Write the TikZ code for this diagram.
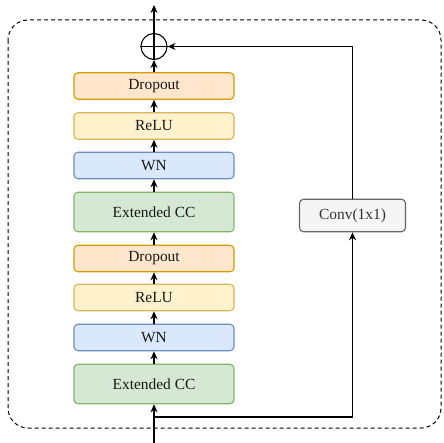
\documentclass[tikz,border=0pt]{standalone}
\usepackage{fontspec}
\setmainfont{Liberation Serif}
\usetikzlibrary{arrows.meta}
\definecolor{dropfill}{HTML}{FFE6CC}\definecolor{dropline}{HTML}{D79B00}
\definecolor{relufill}{HTML}{FFF2CC}\definecolor{reluline}{HTML}{D6B656}
\definecolor{wnfill}{HTML}{DAE8FC}\definecolor{wnline}{HTML}{6C8EBF}
\definecolor{eccfill}{HTML}{D5E8D4}\definecolor{eccline}{HTML}{82B366}
\definecolor{convfill}{HTML}{F5F5F5}\definecolor{convline}{HTML}{666666}
\definecolor{convtext}{HTML}{333333}
\begin{document}
\begin{tikzpicture}[x=1bp,y=-1bp,
  blk/.style={draw,rounded corners=4bp,line width=1.1bp,minimum width=160bp,inner sep=0pt,
    font=\fontsize{15.5}{18}\selectfont,text=black!90},
  thin/.style={minimum height=26.5bp},
  thick/.style={minimum height=39.5bp},
  dropbox/.style={blk,thin,fill=dropfill,draw=dropline},
  relubox/.style={blk,thin,fill=relufill,draw=reluline},
  wnbox/.style={blk,thin,fill=wnfill,draw=wnline},
  eccbox/.style={blk,thick,fill=eccfill,draw=eccline},
  conn/.style={line width=1.1bp,-{Stealth[length=8bp,width=7bp]}},
  plain/.style={line width=1.1bp}]
\useasboundingbox (0,0) rectangle (444,443);
\draw[dashed,line width=1bp,dash pattern=on 4bp off 3bp,rounded corners=20bp] (8,20) rectangle (441,428);
\node[dropbox] (d1) at (154,86) {Dropout};
\node[relubox] (r1) at (154,126) {ReLU};
\node[wnbox] (w1) at (154,165.5) {WN};
\node[eccbox] (e1) at (154,212) {Extended CC};
\node[dropbox] (d2) at (154,258.5) {Dropout};
\node[relubox] (r2) at (154,297.5) {ReLU};
\node[wnbox] (w2) at (154,337.5) {WN};
\node[eccbox] (e2) at (154,384) {Extended CC};
\node[draw=convline,fill=convfill,rounded corners=4bp,line width=1.1bp,minimum width=106bp,minimum height=32.5bp,inner sep=0pt,
  font=\fontsize{15.5}{18}\selectfont,text=convtext] (conv) at (352.5,215.5) {Conv(1x1)};
\node[draw,circle,line width=1.1bp,minimum size=26bp,inner sep=0pt] (plus) at (154,46.5) {};
\draw[line width=1.1bp] (plus.north) -- (plus.south) (plus.west) -- (plus.east);
\coordinate (in) at (154,443);
\coordinate (split) at (154,417);
\coordinate (out) at (154,5);
\draw[conn] (in) -- (e2.south);
\draw[conn] (e2.north) -- (w2.south);
\draw[conn] (w2.north) -- (r2.south);
\draw[conn] (r2.north) -- (d2.south);
\draw[conn] (d2.north) -- (e1.south);
\draw[conn] (e1.north) -- (w1.south);
\draw[conn] (w1.north) -- (r1.south);
\draw[conn] (r1.north) -- (d1.south);
\draw[conn] (d1.north) -- (plus.south);
\draw[conn] (plus.north) -- (out);
\draw[conn] (split) -| (conv.south);
\draw[conn] (conv.north) |- (plus.east);
\end{tikzpicture}
\end{document}
